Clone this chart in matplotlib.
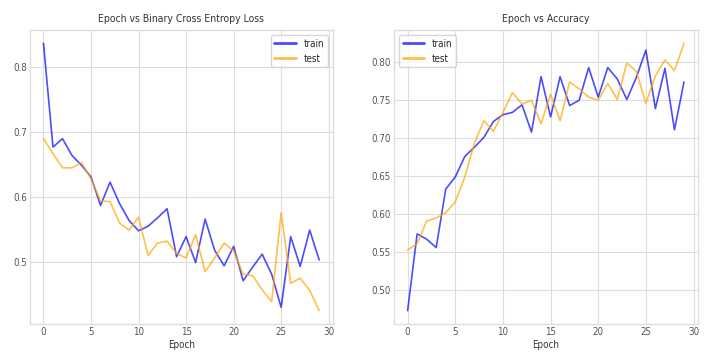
import matplotlib
matplotlib.use('Agg')
import matplotlib.pyplot as plt
import numpy as np

epochs = np.arange(30)

loss_train = [0.837, 0.677, 0.690, 0.664, 0.649, 0.631, 0.587, 0.623, 0.590, 0.564,
              0.548, 0.555, 0.568, 0.582, 0.508, 0.539, 0.499, 0.566, 0.518, 0.494,
              0.524, 0.471, 0.492, 0.512, 0.481, 0.430, 0.539, 0.493, 0.549, 0.503]
loss_test = [0.690, 0.667, 0.645, 0.645, 0.653, 0.628, 0.594, 0.593, 0.560, 0.549,
             0.569, 0.510, 0.529, 0.532, 0.513, 0.506, 0.542, 0.485, 0.506, 0.529,
             0.517, 0.481, 0.479, 0.457, 0.439, 0.576, 0.467, 0.475, 0.456, 0.425]

acc_train = [0.473, 0.574, 0.567, 0.556, 0.633, 0.649, 0.676, 0.688, 0.701, 0.722,
             0.731, 0.734, 0.744, 0.708, 0.781, 0.728, 0.781, 0.743, 0.750, 0.793,
             0.754, 0.793, 0.778, 0.751, 0.780, 0.816, 0.739, 0.792, 0.711, 0.774]
acc_test = [0.553, 0.561, 0.591, 0.595, 0.602, 0.616, 0.649, 0.693, 0.723, 0.709,
            0.734, 0.760, 0.745, 0.750, 0.719, 0.758, 0.723, 0.774, 0.765, 0.754,
            0.750, 0.772, 0.751, 0.799, 0.788, 0.746, 0.782, 0.803, 0.789, 0.825]

plt.style.use('seaborn-v0_8-whitegrid')
plt.rcParams['font.family'] = ['DejaVu Sans']
plt.rcParams['font.stretch'] = 'condensed'
plt.rcParams['axes.edgecolor'] = '#dddddd'
plt.rcParams['grid.color'] = '#dddddd'
plt.rcParams['xtick.color'] = '#555555'
plt.rcParams['ytick.color'] = '#555555'
plt.rcParams['xtick.labelsize'] = 7
plt.rcParams['ytick.labelsize'] = 7

fig = plt.figure(figsize=(7.07, 3.56), dpi=100)
ax1 = fig.add_axes([0.042, 0.09, 0.429, 0.826])
ax2 = fig.add_axes([0.557, 0.09, 0.430, 0.826])

for ax, tr, te, title, loc in [(ax1, loss_train, loss_test, 'Epoch vs Binary Cross Entropy Loss', 'upper right'),
                               (ax2, acc_train, acc_test, 'Epoch vs Accuracy', 'upper left')]:
    ax.plot(epochs, tr, color='blue', alpha=0.7, lw=1.2, label='train')
    ax.plot(epochs, te, color='orange', alpha=0.7, lw=1.2, label='test')
    ax.set_title(title, fontsize=7.5, color='#333333')
    ax.set_xlabel('Epoch', fontsize=7, color='#333333', labelpad=2)
    ax.tick_params(pad=2)
    for s in ax.spines.values():
        s.set_visible(True)
        s.set_color('#dddddd')
    leg = ax.legend(loc=loc, frameon=True, fontsize=7, handlelength=2.2)
    for ln in leg.get_lines():
        ln.set_linewidth(2)

ax1.set_yticks([0.5, 0.6, 0.7, 0.8])
ax2.set_yticks([0.50, 0.55, 0.60, 0.65, 0.70, 0.75, 0.80])
ax2.set_yticklabels(['0.50', '0.55', '0.60', '0.65', '0.70', '0.75', '0.80'])

plt.savefig('out.png')
